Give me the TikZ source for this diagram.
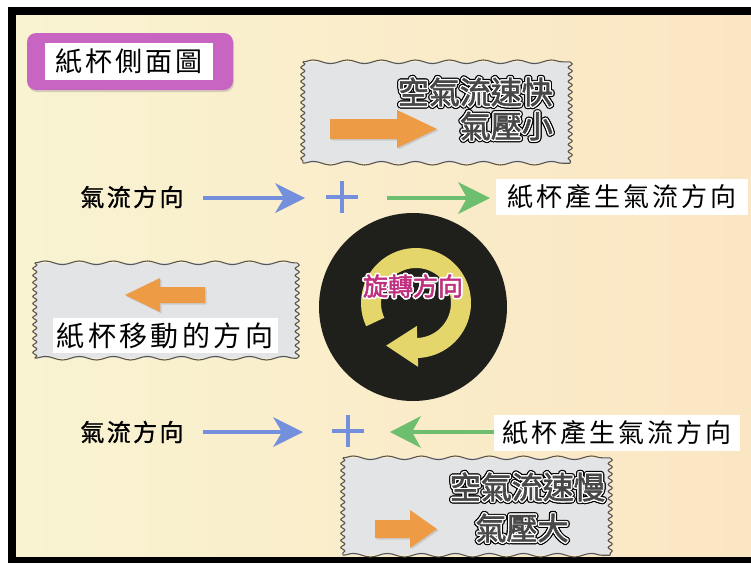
\documentclass[tikz,border=0pt]{standalone}
\usepackage{fontspec}
\setmainfont{Noto Sans CJK TC}
\newfontfamily\cjk{Noto Sans CJK TC}
\newfontfamily\cjksp[LetterSpace=12]{Noto Sans CJK TC}
\newfontfamily\cjkspb[LetterSpace=10, FakeBold=1.2]{Noto Sans CJK TC}
\newfontfamily\cjkbold[FakeBold=2]{Noto Sans CJK TC}
\usetikzlibrary{calc,decorations.pathmorphing,shadows}

\definecolor{creamL}{HTML}{F9F3D1}
\definecolor{creamR}{HTML}{FBE6C3}
\definecolor{titlepurple}{HTML}{C864C2}
\definecolor{stampgray}{HTML}{E2E4E6}
\definecolor{stampedge}{HTML}{5A5650}
\definecolor{flowblue}{HTML}{7490DC}
\definecolor{flowgreen}{HTML}{6DBE6E}
\definecolor{cuporange}{HTML}{EE9B46}
\definecolor{discblack}{HTML}{1F1F1C}
\definecolor{spinyellow}{HTML}{E4D66B}
\definecolor{spinpink}{HTML}{C02E7E}
\definecolor{embossgray}{HTML}{474747}

\tikzset{
  stampbody/.style={fill=stampgray, inner sep=0pt},
  wavylong/.style={draw=stampedge, line width=1.1pt, decorate,
    decoration={snake, segment length=34pt, amplitude=1.8pt}},
  wavyshort/.style={draw=stampedge, line width=1.1pt, decorate,
    decoration={snake, segment length=7pt, amplitude=2pt}},
  embossfont/.style={inner sep=0pt, font=\cjkbold\fontsize{31}{31}\selectfont},
  spinfont/.style={inner sep=0pt, font=\cjkbold\fontsize{25}{25}\selectfont},
  flowlabel/.style={inner sep=0pt, text=black, font=\cjkspb\fontsize{24}{24}\selectfont},
  whitelabel/.style={fill=white, inner sep=0pt, text=black,
    font=\cjksp\fontsize{26}{26}\selectfont},
  flowline/.style={line width=4pt},
  orangearrow/.style={fill=cuporange, drop shadow={opacity=0.25, shadow xshift=1.5pt, shadow yshift=-1.5pt}},
}

% dark letters with a white rim and a dark outer edge
\newcommand\embosstext[3]{%
  \foreach \a in {0,30,...,330}
    \node[embossfont, text=black, #2, shift={(\a:2.6)}, name={#1o\a}] {#3};
  \foreach \a in {0,45,...,315}
    \node[embossfont, text=white, #2, shift={(\a:1.4)}, name={#1w\a}] {#3};
  \node[embossfont, text=embossgray, #2, name=#1] {#3};
}

% a grey panel with wavy edges
\newcommand\stamp[5]{%
  \node[stampbody, minimum width=#4pt, minimum height=#5pt] (#1) at (#2,#3) {};
  \draw[wavylong] (#1.north west) -- (#1.north east);
  \draw[wavylong] (#1.south west) -- (#1.south east);
  \draw[wavyshort] (#1.north west) -- (#1.south west);
  \draw[wavyshort] (#1.north east) -- (#1.south east);
}

\begin{document}
\begin{tikzpicture}[x=1pt, y=-1pt]
\useasboundingbox (0,0) rectangle (751,565);

% frame and background
\fill[white] (0,0) rectangle (751,565);
\fill[black] (8,7) rectangle (751,563);
\shade[left color=creamL, right color=creamR] (16,15) rectangle (751,556);

% title
\node[fill=titlepurple, rounded corners=9pt, minimum width=206pt, minimum height=57pt,
      drop shadow={opacity=0.3, shadow xshift=1pt, shadow yshift=-2pt}] (titlebox) at (130,61.5) {};
\node[fill=white, minimum width=168pt, minimum height=37pt, inner sep=0pt,
      font=\cjksp\fontsize{27}{27}\selectfont] (titletext) at (129,61.5) {紙杯側面圖};

% upper panel: fast air, low pressure
\stamp{topstamp}{436.5}{112.5}{267}{101}
\embosstext{fastA}{anchor=east, at={(553,92)}}{空氣流速快}
\embosstext{fastB}{anchor=east, at={(553,126)}}{氣壓小}
\fill[orangearrow] (330,119) -- (397,119) -- (397,110) -- (437,129) -- (397,148) -- (397,139) -- (330,139) -- cycle;

% first flow row
\node[flowlabel] (flowA) at (132,197) {氣流方向};
\coordinate (blueAstart) at (203,198);
\coordinate (blueAtip) at (305,198);
\draw[flowblue, flowline] (blueAstart) -- (285,198);
\fill[flowblue] (blueAtip) -- (275,183) -- (284,198) -- (275,213) -- cycle;
\node[inner sep=0pt, minimum size=32pt] (plusA) at (342,197) {};
\draw[flowblue, flowline] (plusA.west) -- (plusA.east);
\draw[flowblue, flowline] (plusA.north) -- (plusA.south);
\coordinate (greenAstart) at (387,198);
\coordinate (greenAtip) at (490,198);
\draw[flowgreen, flowline] (greenAstart) -- (470,198);
\fill[flowgreen] (greenAtip) -- (458,182) -- (467,198) -- (458,214) -- cycle;
\node[whitelabel, minimum width=252pt, minimum height=36pt] (cupflowA) at (622,197) {紙杯產生氣流方向};

% rotating cup
\node[circle, fill=discblack, minimum size=188pt, inner sep=0pt] (disc) at (413,307) {};
\coordinate (spin) at (416,303);
\fill[spinyellow] ($(spin)+(155:55)$) arc[start angle=155, end angle=448, radius=55]
  -- ($(spin)+(448:64)$) -- ($(spin)+(485:52)$) -- ($(spin)+(448:23)$)
  -- ($(spin)+(448:35)$) arc[start angle=448, end angle=155, radius=35] -- cycle;
\foreach \a in {0,45,...,315}
  \node[spinfont, text=white, shift={(\a:1.7)}, name={spinw\a}] at (413,286) {旋轉方向};
\node[spinfont, text=spinpink] (spinlabel) at (413,286) {旋轉方向};

% left panel: direction of the cup's motion
\stamp{leftstamp}{166}{310.5}{262}{95}
\fill[orangearrow] (205,287) -- (160,287) -- (160,278) -- (125,295) -- (160,312) -- (160,303) -- (205,303) -- cycle;
\node[fill=white, minimum width=225pt, minimum height=35pt, inner sep=0pt,
      font=\cjksp\fontsize{28}{28}\selectfont] (movelabel) at (165,335.5) {紙杯移動的方向};

% second flow row
\node[flowlabel] (flowB) at (132,432) {氣流方向};
\coordinate (blueBstart) at (203,432);
\coordinate (blueBtip) at (303,432);
\draw[flowblue, flowline] (blueBstart) -- (283,432);
\fill[flowblue] (blueBtip) -- (273,417) -- (282,432) -- (273,447) -- cycle;
\node[inner sep=0pt, minimum size=32pt] (plusB) at (348,431) {};
\draw[flowblue, flowline] (plusB.west) -- (plusB.east);
\draw[flowblue, flowline] (plusB.north) -- (plusB.south);
\coordinate (greenBstart) at (495,432);
\coordinate (greenBtip) at (390,432);
\draw[flowgreen, flowline] (greenBstart) -- (410,432);
\fill[flowgreen] (greenBtip) -- (421,416) -- (412,432) -- (421,448) -- cycle;
\node[whitelabel, minimum width=246pt, minimum height=36pt] (cupflowB) at (617,433) {紙杯產生氣流方向};

% lower panel: slow air, high pressure
\stamp{botstamp}{476.5}{506.5}{267}{97}
\embosstext{slowA}{anchor=east, at={(605,487)}}{空氣流速慢}
\embosstext{slowB}{at={(522,528)}}{氣壓大}
\fill[orangearrow] (375,520) -- (410,520) -- (410,510) -- (437,529) -- (410,548) -- (410,538) -- (375,538) -- cycle;
\end{tikzpicture}
\end{document}
